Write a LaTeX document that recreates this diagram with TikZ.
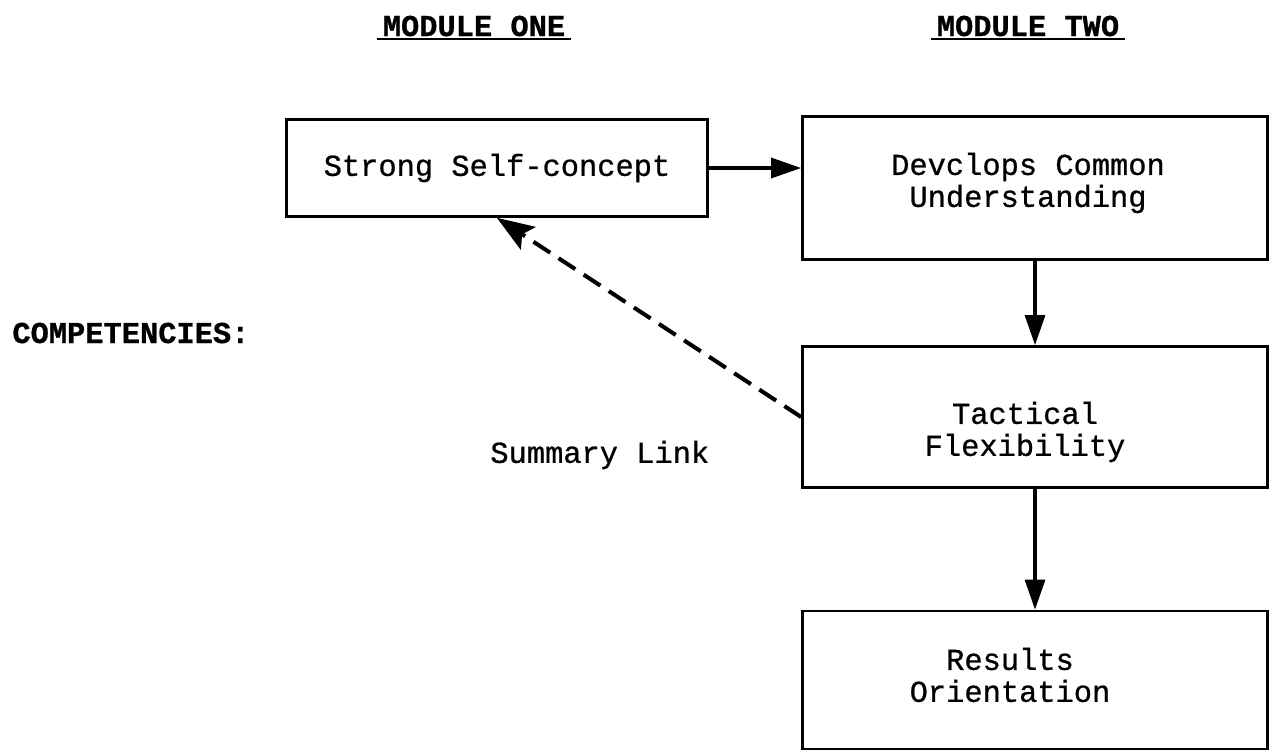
\documentclass[tikz,border=0pt]{standalone}
\usepackage{fontspec}
\setmonofont{Liberation Mono}[FakeBold=0.8]
\usetikzlibrary{arrows.meta, positioning}

\begin{document}
\begin{tikzpicture}[x=0.02cm, y=-0.02cm,
        every node/.style={font=\ttfamily\fontsize{17.3}{18.2}\selectfont},
        heading/.style={font=\ttfamily\bfseries\fontsize{17.3}{18.2}\selectfont},
        box/.style={draw, line width=1.6pt, align=center, inner sep=0pt},
        link/.style={line width=1.8pt, -{Triangle[length=0.6cm, width=0.4cm]}},
        back/.style={line width=2.3pt, dash pattern=on 0.4cm off 0.2cm,
            -{Stealth[length=0.75cm, width=0.55cm, inset=0.15cm, line width=0.5pt]}}]
        \useasboundingbox (0, 0) rectangle (1270, 751);

        \node[heading] (mone) at (474, 26) {MODULE ONE};
        \node[heading] (mtwo) at (1028, 26) {MODULE TWO};
        \draw[line width=1.6pt] ([yshift=2pt]mone.south west) -- ([yshift=2pt]mone.south east)
            ([yshift=2pt]mtwo.south west) -- ([yshift=2pt]mtwo.south east);

        \node[heading, anchor=west, inner sep=0pt] (comp) at (12, 333) {COMPETENCIES:};
        \node[anchor=west, inner sep=0pt] (summ) at (490, 455) {Summary Link};

        \node[box, minimum width=8.42cm, minimum height=1.94cm] (self) at (497, 168) {Strong Self-concept};
        \node[box, minimum width=9.3cm, minimum height=2.86cm,
            label={[align=center, shift={(-7,-5)}]center:{Devclops Common\\Understanding}}] (common) at (1035, 188) {};
        \node[box, minimum width=9.3cm, minimum height=2.82cm,
            label={[align=center, shift={(-10,15)}]center:{Tactical\\Flexibility}}] (tact) at (1035, 417) {};
        \node[box, minimum width=9.3cm, minimum height=2.76cm,
            label={[align=center, shift={(-25,-5)}]center:{Results\\Orientation}}] (results) at (1035, 680) {};

        \draw[link] (self.east) -- (self.east -| common.west);
        \draw[link] (common.south) -- (tact.north);
        \draw[link] (tact.south) -- (results.north);
        \draw[back] (tact.west) -- (self.south);
    \end{tikzpicture}
\end{document}
